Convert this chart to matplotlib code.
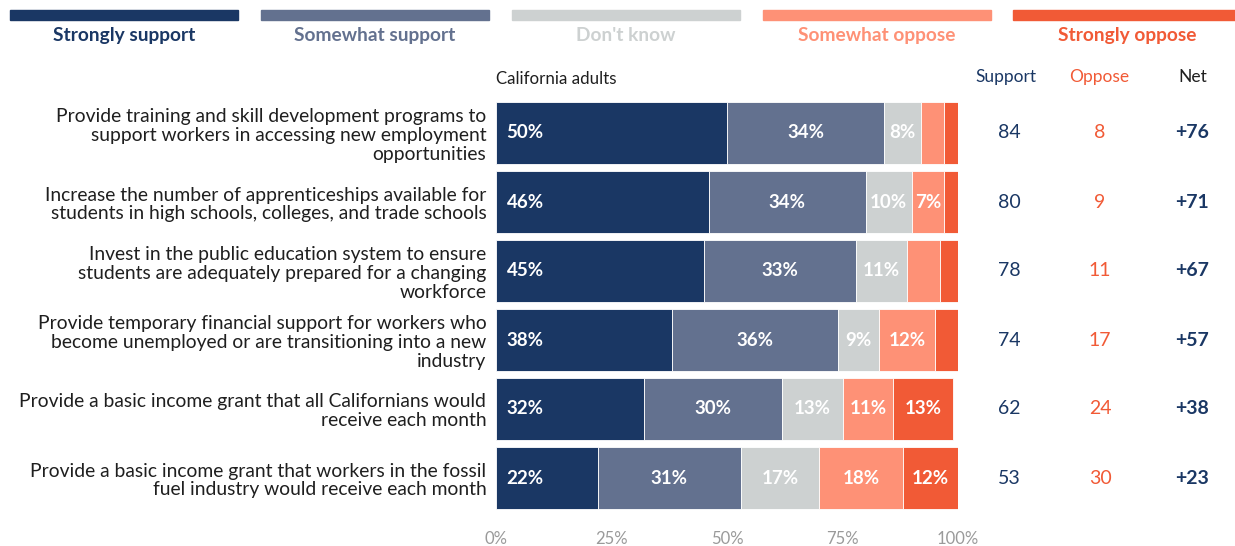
import matplotlib.pyplot as plt
from matplotlib.patches import Rectangle

plt.rcParams['font.family'] = ['Lato', 'DejaVu Sans']

# ---- data ----
questions = [
    "Provide training and skill development programs to\nsupport workers in accessing new employment\nopportunities",
    "Increase the number of apprenticeships available for\nstudents in high schools, colleges, and trade schools",
    "Invest in the public education system to ensure\nstudents are adequately prepared for a changing\nworkforce",
    "Provide temporary financial support for workers who\nbecome unemployed or are transitioning into a new\nindustry",
    "Provide a basic income grant that all Californians would\nreceive each month",
    "Provide a basic income grant that workers in the fossil\nfuel industry would receive each month",
]
categories = ["Strongly support", "Somewhat support", "Don't know",
              "Somewhat oppose", "Strongly oppose"]
strongly_support = [50, 46, 45, 38, 32, 22]
somewhat_support = [34, 34, 33, 36, 30, 31]
dont_know = [8, 10, 11, 9, 13, 17]
somewhat_oppose = [5, 7, 7, 12, 11, 18]
strongly_oppose = [3, 3, 4, 5, 13, 12]
support = [84, 80, 78, 74, 62, 53]
oppose = [8, 9, 11, 17, 24, 30]
net = [76, 71, 67, 57, 38, 23]
ticks = [0, 25, 50, 75, 100]
# (row, series) segments left without a value label
unlabeled = [(2, 3)]

colors = ["#1a3764", "#63718f", "#cdd1d1", "#fe9176", "#f15a36"]
series = [strongly_support, somewhat_support, dont_know, somewhat_oppose, strongly_oppose]

W, H = 1235, 546
fig = plt.figure(figsize=(W / 100, H / 100), dpi=100)
ax = fig.add_axes([496 / W, 1 - 512.5 / H, 462 / W, 414 / H])

ypos = list(range(len(questions)))
left = [0] * len(questions)
for s, vals in enumerate(series):
    ax.barh(ypos, vals, left=left, height=0.9, color=colors[s],
            edgecolor="white", linewidth=0.6)
    for i, v in enumerate(vals):
        if v >= 7 and (i, s) not in unlabeled:
            if s == 0:
                ax.text(left[i] + 2.3, i, f"{v}%", ha="left", va="center",
                        color="white", fontsize=13.5, fontweight="bold")
            else:
                ax.text(left[i] + v / 2, i, f"{v}%", ha="center", va="center",
                        color="white", fontsize=13.5, fontweight="bold")
    left = [l + v for l, v in zip(left, vals)]

ax.set_xlim(0, 100)
ax.set_ylim(len(questions) - 0.5, -0.5)
for sp in ax.spines.values():
    sp.set_visible(False)
ax.set_yticks(ypos)
ax.set_yticklabels(questions, fontsize=13.9, color="#1f1f1f", linespacing=1.12)
ax.tick_params(axis="y", length=0, pad=7)
ax.set_xticks(ticks)
ax.set_xticklabels([f"{t}%" for t in ticks], fontsize=12, color="#9a9a9a")
ax.tick_params(axis="x", length=0, pad=13)

ax.text(0, -0.78, "California adults", ha="left", va="center",
        fontsize=12.2, color="#1f1f1f")

# summary columns to the right of the bars
to_x = lambda px: (px - 496) / 462 * 100
for i in ypos:
    ax.text(to_x(1009), i, str(support[i]), ha="center", va="center",
            fontsize=14, color="#1a3764", clip_on=False)
    ax.text(to_x(1100), i, str(oppose[i]), ha="center", va="center",
            fontsize=14, color="#f15a36", clip_on=False)
    ax.text(to_x(1192), i, f"+{net[i]}", ha="center", va="center",
            fontsize=14, color="#1a3764", fontweight="bold", clip_on=False)
ax.text(to_x(1006), -0.81, "Support", ha="center", va="center",
        fontsize=12.5, color="#1a3764", clip_on=False)
ax.text(to_x(1099), -0.81, "Oppose", ha="center", va="center",
        fontsize=12.5, color="#f15a36", clip_on=False)
ax.text(to_x(1193), -0.81, "Net", ha="center", va="center",
        fontsize=12.5, color="#1f1f1f", clip_on=False)

# legend strip along the top
leg_x = [10, 261, 512, 763, 1013]
leg_w = 228
for x0, c, name in zip(leg_x, colors, categories):
    fig.patches.append(Rectangle((x0 / W, 1 - 20 / H), leg_w / W, 10 / H,
                                 transform=fig.transFigure, color=c))
    fig.text((x0 + leg_w / 2) / W, 1 - 35.5 / H, name, ha="center", va="center",
             fontsize=13.8, color=c, fontweight="bold")

fig.savefig("out.png", dpi=100)
